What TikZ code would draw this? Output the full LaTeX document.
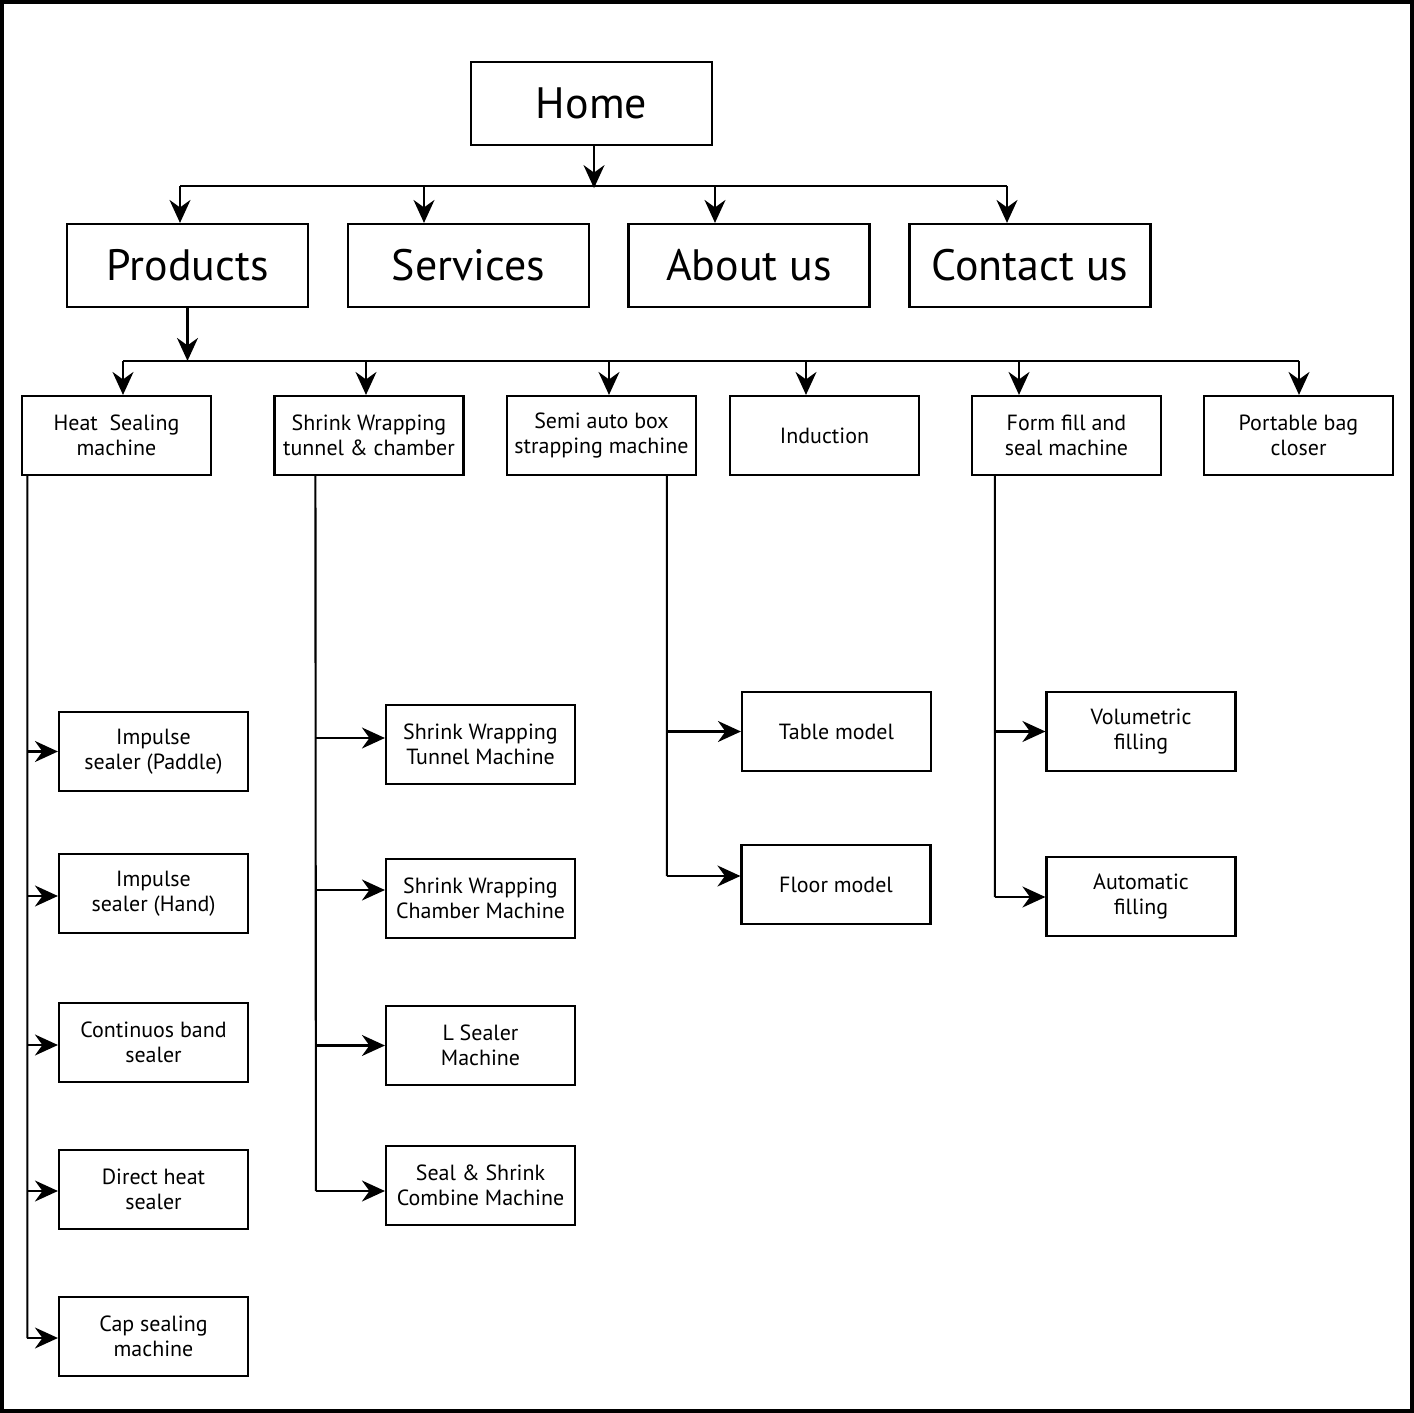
\documentclass[tikz,border=0pt]{standalone}
\usepackage{fontspec}
\setmainfont{PT Sans}
\usetikzlibrary{arrows.meta,calc}
\begin{document}
\begin{tikzpicture}[x=0.02cm, y=-0.02cm,
        box/.style={draw, line width=1.25pt, inner sep=0pt, align=center,
            minimum width=3.78cm, minimum height=1.58cm,
            font=\fontsize{12.5}{14.5}\selectfont},
        bigbox/.style={box, minimum width=4.82cm, minimum height=1.66cm,
            font=\fontsize{25}{30}\selectfont},
        link/.style={line width=1.2pt},
        arr/.style={link, -{Stealth[length=0.46cm, width=0.42cm, inset=0.15cm]}}]
                \useasboundingbox (0,0) rectangle (1414,1413);
                \draw[line width=2.3pt] (2,2) rectangle (1412,1411);
                % top levels
                \node[bigbox] (home) at (591.5,103.5) {Home};
                \node[bigbox] (prod) at (187.5,265.5) {Products};
                \node[bigbox] (serv) at (468.5,265.5) {Services};
                \node[bigbox] (about) at (749,265.5) {About us};
                \node[bigbox] (cont) at (1030,265.5) {Contact us};
                % product groups
                \node[box] (heat) at (116.5,435.5) {Heat\ \ Sealing\\machine};
                \node[box] (shr) at (369,435.5) {Shrink Wrapping\\tunnel \& chamber};
                \node[box] (semi) at (601.5,435.5) {Semi auto box\\strapping machine};
                \node[box] (ind) at (824.5,435.5) {Induction};
                \node[box] (ffs) at (1066.5,435.5) {Form fill and\\seal machine};
                \node[box] (port) at (1298.5,435.5) {Portable bag\\closer};
                % items
                \node[box] (imp1) at (153.5,751.5) {Impulse\\sealer (Paddle)};
                \node[box] (imp2) at (153.5,893.5) {Impulse\\sealer (Hand)};
                \node[box] (band) at (153.5,1042.5) {Continuos band\\sealer};
                \node[box] (dheat) at (153.5,1189.5) {Direct heat\\sealer};
                \node[box] (cap) at (153.5,1336.5) {Cap sealing\\machine};
                \node[box] (swt) at (480.5,744.5) {Shrink Wrapping\\Tunnel Machine};
                \node[box] (swc) at (480.5,898.5) {Shrink Wrapping\\Chamber Machine};
                \node[box] (lseal) at (480.5,1045.5) {L Sealer\\Machine};
                \node[box] (ssc) at (480.5,1185.5) {Seal \& Shrink\\Combine Machine};
                \node[box] (table) at (836.5,731.5) {Table model};
                \node[box] (floor) at (836,884.5) {Floor model};
                \node[box] (vol) at (1141,731.5) {Volumetric\\filling};
                \node[box] (auto) at (1141,896.5) {Automatic\\filling};
                % home bus
                \coordinate (hbusL) at ($(prod.north)+(-7.5,-37)$);
                \coordinate (hbusR) at ($(cont.north)+(-23,-37)$);
                \draw[link] (hbusL) -- (hbusR);
                \draw[arr] ($(home.south)+(2.5,0)$) -- ($(home.south)+(2.5,42)$);
                \foreach \n/\dx in {prod/-7.5, serv/-44.5, about/-34, cont/-23}
                    \draw[arr] ($(\n.north)+(\dx,-37)$) -- ($(\n.north)+(\dx,0)$);
                % products bus
                \coordinate (pbusL) at ($(heat.north)+(6.5,-34)$);
                \coordinate (pbusR) at ($(port.north)+(0.5,-34)$);
                \draw[link] (pbusL) -- (pbusR);
                \draw[arr] (prod.south) -- (prod.south |- pbusL);
                \foreach \n/\dx in {heat/6.5, shr/-3, semi/7.5, ind/-18.5, ffs/-47.5, port/0.5}
                    \draw[arr] ($(\n.north)+(\dx,-34)$) -- ($(\n.north)+(\dx,0)$);
                % columns
                \coordinate (hcol) at ($(heat.south west)+(6.5,0)$);
                \draw[link] (hcol) -- ($(cap.west)+(-30.5,1.5)$);
                \foreach \n/\dy in {imp1/0, imp2/2.5, band/2.5, dheat/1.5, cap/1.5}
                    \draw[arr] ($(\n.west)+(-30.5,\dy)$) -- ($(\n.west)+(0,\dy)$);
                \coordinate (scol) at ($(shr.south west)+(42,0)$);
                \draw[link] (scol) -- ($(ssc.west)+(-69,5.5)$);
                \foreach \n/\dy in {swt/-6.5, swc/-8.5, lseal/0, ssc/5.5}
                    \draw[arr] ($(\n.west)+(-69,\dy)$) -- ($(\n.west)+(0,\dy)$);
                \coordinate (bcol) at ($(semi.south west)+(161,0)$);
                \draw[link] (bcol) -- ($(floor.west)+(-73.5,-8.5)$);
                \foreach \n/\dy in {table/0, floor/-8.5}
                    \draw[arr] ($(\n.west)+(-73.5,\dy)$) -- ($(\n.west)+(0,\dy)$);
                \coordinate (fcol) at ($(ffs.south west)+(24,0)$);
                \draw[link] (fcol) -- ($(auto.west)+(-50.5,0.5)$);
                \foreach \n/\dy in {vol/0, auto/0.5}
                    \draw[arr] ($(\n.west)+(-50.5,\dy)$) -- ($(\n.west)+(0,\dy)$);
            \end{tikzpicture}
\end{document}
